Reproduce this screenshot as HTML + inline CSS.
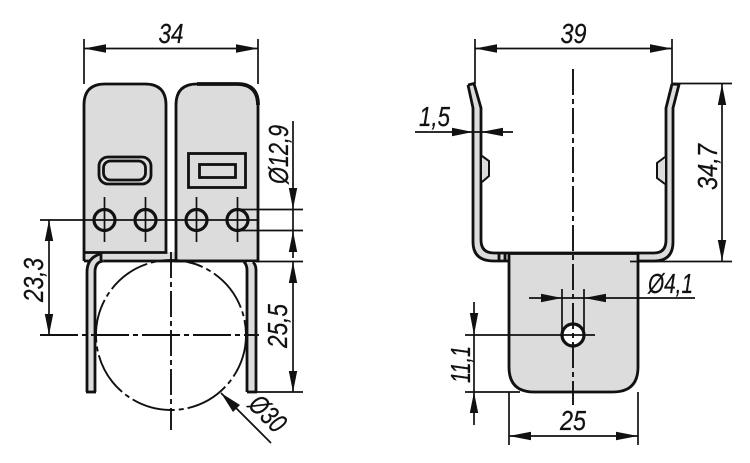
<!DOCTYPE html>
<html><head><meta charset="utf-8"><style>
html,body{margin:0;padding:0;background:#fff}
svg{display:block}
text{font-family:"Liberation Sans",sans-serif;font-style:italic;font-size:27.5px;fill:#111;stroke:#111;stroke-width:.25}
.o{fill:none;stroke:#111;stroke-width:2.8}
.g{fill:#dcdcdc;stroke:#111;stroke-width:2.8}
.t{fill:none;stroke:#111;stroke-width:1.7}
.c{fill:none;stroke:#111;stroke-width:1.9}
.a{fill:#111;stroke:none}
</style></head><body>
<svg width="750" height="463" viewBox="0 0 750 463" xmlns="http://www.w3.org/2000/svg">
<!-- LEFT VIEW -->
<path d="M84 252H176V261H84Z" fill="#dcdcdc"/>
<path class="g" d="M84 261V105Q84 84 105 84H145Q166 84 166 105V252.500H84"/>
<path class="g" d="M176 261V105Q176 84 197 84H237Q258 84 258 105V261Z"/>
<path d="M197 84H237Q258 84 258 105" fill="none" stroke="#111" stroke-width="3.800"/>
<path class="o" d="M84 261H258"/>
<path d="M91 392V272Q91 259 103 258" fill="none" stroke="#dcdcdc" stroke-width="7"/>
<path d="M247 392V262H256V392Z" fill="#dcdcdc"/>
<path class="o" d="M87 392V272Q87 258 100 254"/>
<path class="o" d="M95 392V272Q95 262 103 261"/>
<path class="o" d="M86 392H96"/>
<path class="o" d="M101 253V261" stroke-width="1.500"/>
<path class="o" d="M256 392V270Q256 265 253 262"/>
<path class="o" d="M247 392V270Q247 265 244 262"/>
<path class="o" d="M247 392H257"/>
<rect class="o" x="99" y="157" width="52" height="27" rx="9"/>
<rect class="o" x="103.500" y="161" width="42" height="19" rx="7"/>
<rect class="o" x="188.500" y="153.500" width="57" height="34"/>
<rect class="o" x="199.500" y="164.500" width="36" height="13"/>
<g fill="#dcdcdc" stroke="#111" stroke-width="3.200">
<circle cx="104.500" cy="220" r="10.500"/><circle cx="145.500" cy="220" r="10.500"/><circle cx="196.500" cy="220" r="10.500"/><circle cx="237.500" cy="220" r="10.500"/>
</g>
<path class="t" d="M40 220H258M104.500 197V242M145.500 197V242M196.500 197V242M237.500 197V242"/>
<circle class="c" cx="171" cy="335" r="75" stroke-dasharray="44 4 5 4"/>
<path class="c" d="M171 252V430" stroke-dasharray="26 4 5 4"/>
<path class="c" d="M40 335H259" stroke-dasharray="38 4 5 4"/>
<!-- dims left -->
<path class="t" d="M84 39V84M258 39V84M84 48.500H258"/>
<path class="a" d="M84 48.500L106 44.300V52.700ZM258 48.500L236 44.300V52.700Z"/>
<text x="171" y="43" text-anchor="middle" textLength="25" lengthAdjust="spacingAndGlyphs">34</text>
<path class="t" d="M293 121V258M239 209.500H303M239 230.500H303M258 261.500H303M256 392H303M293 262V392"/>
<path class="a" d="M293 209L288.800 188H297.200ZM293 231L288.800 252H297.200ZM293 262L288.800 283H297.200ZM293 392L288.800 371H297.200Z"/>
<text transform="translate(288,184) rotate(-90)" textLength="59" lengthAdjust="spacingAndGlyphs">Ø12,9</text>
<text transform="translate(287,348) rotate(-90)" textLength="44" lengthAdjust="spacingAndGlyphs">25,5</text>
<path class="t" d="M49 220V335"/>
<path class="a" d="M49 220L44.800 241H53.200ZM49 335L44.800 314H53.200Z"/>
<text transform="translate(43,302) rotate(-90)" textLength="44" lengthAdjust="spacingAndGlyphs">23,3</text>
<path class="t" d="M221 393L271 443"/>
<path class="a" d="M221 393L240 405L233 412Z"/>
<text transform="translate(247,406) rotate(45)" textLength="40" lengthAdjust="spacingAndGlyphs">Ø30</text>
<!-- RIGHT VIEW -->
<path d="M471 85L477 108V242Q477 257 494 257H654Q669.500 257 669.500 242V108L675.500 85" fill="none" stroke="#dcdcdc" stroke-width="7"/>
<path class="o" d="M468 85L474 83.500L481 108V240Q481 253 494 253H654Q666 253 666 240V108L672 84"/>
<path class="o" d="M468 85L473 108V242Q473 261 494 261H654Q673 261 673 242V108L679 84.500L672 84"/>
<path class="o" d="M499 253V261M505 253V261" stroke-width="1.500"/>
<path class="g" d="M509 253.500V367Q509 392 534 392H613Q638 392 638 367V253.500Z"/>
<path fill="#dcdcdc" stroke="#111" stroke-width="2" d="M482 156L489 161V176L482 182"/>
<path fill="#dcdcdc" stroke="#111" stroke-width="2" d="M665 157L657 163V178L665 184"/>
<circle cx="573" cy="335" r="11" fill="#fff" stroke="#111" stroke-width="3.200"/>
<path class="c" d="M573 69V405" stroke-dasharray="26 4 5 4"/>
<path class="t" d="M528 335H595"/>
<!-- dims right -->
<path class="t" d="M475 39V84M672 39V84M475 48.500H672"/>
<path class="a" d="M475 48.500L497 44.300V52.700ZM672 48.500L650 44.300V52.700Z"/>
<text x="573.500" y="43" text-anchor="middle" textLength="26" lengthAdjust="spacingAndGlyphs">39</text>
<path class="t" d="M415 132H513"/>
<path class="a" d="M473 132L452 127.800V136.200ZM481 132L503 127.800V136.200Z"/>
<text x="419" y="126" textLength="31" lengthAdjust="spacingAndGlyphs">1,5</text>
<path class="t" d="M672 83.500H732M722 84V261M630 261.500H732"/>
<path class="a" d="M722 84L717.800 105H726.200ZM722 261L717.800 240H726.200Z"/>
<text transform="translate(717,190) rotate(-90)" textLength="46" lengthAdjust="spacingAndGlyphs">34,7</text>
<path class="t" d="M529 298H695M562 289V335M584 289V335"/>
<path class="a" d="M562 298L541 293.800V302.200ZM584 298L606 293.800V302.200Z"/>
<text x="648" y="293" textLength="45" lengthAdjust="spacingAndGlyphs">Ø4,1</text>
<path class="t" d="M474 302V425M465 335H528M465 392H520"/>
<path class="a" d="M474 335L469.800 313H478.200ZM474 392L469.800 413H478.200Z"/>
<text transform="translate(470,383) rotate(-90)" textLength="37" lengthAdjust="spacingAndGlyphs">11,1</text>
<path class="t" d="M509 392V445M638 392V445M509 436H638"/>
<path class="a" d="M509 436L531 431.800V440.200ZM638 436L616 431.800V440.200Z"/>
<text x="573" y="430" text-anchor="middle" textLength="26" lengthAdjust="spacingAndGlyphs">25</text>
</svg>
</body></html>
